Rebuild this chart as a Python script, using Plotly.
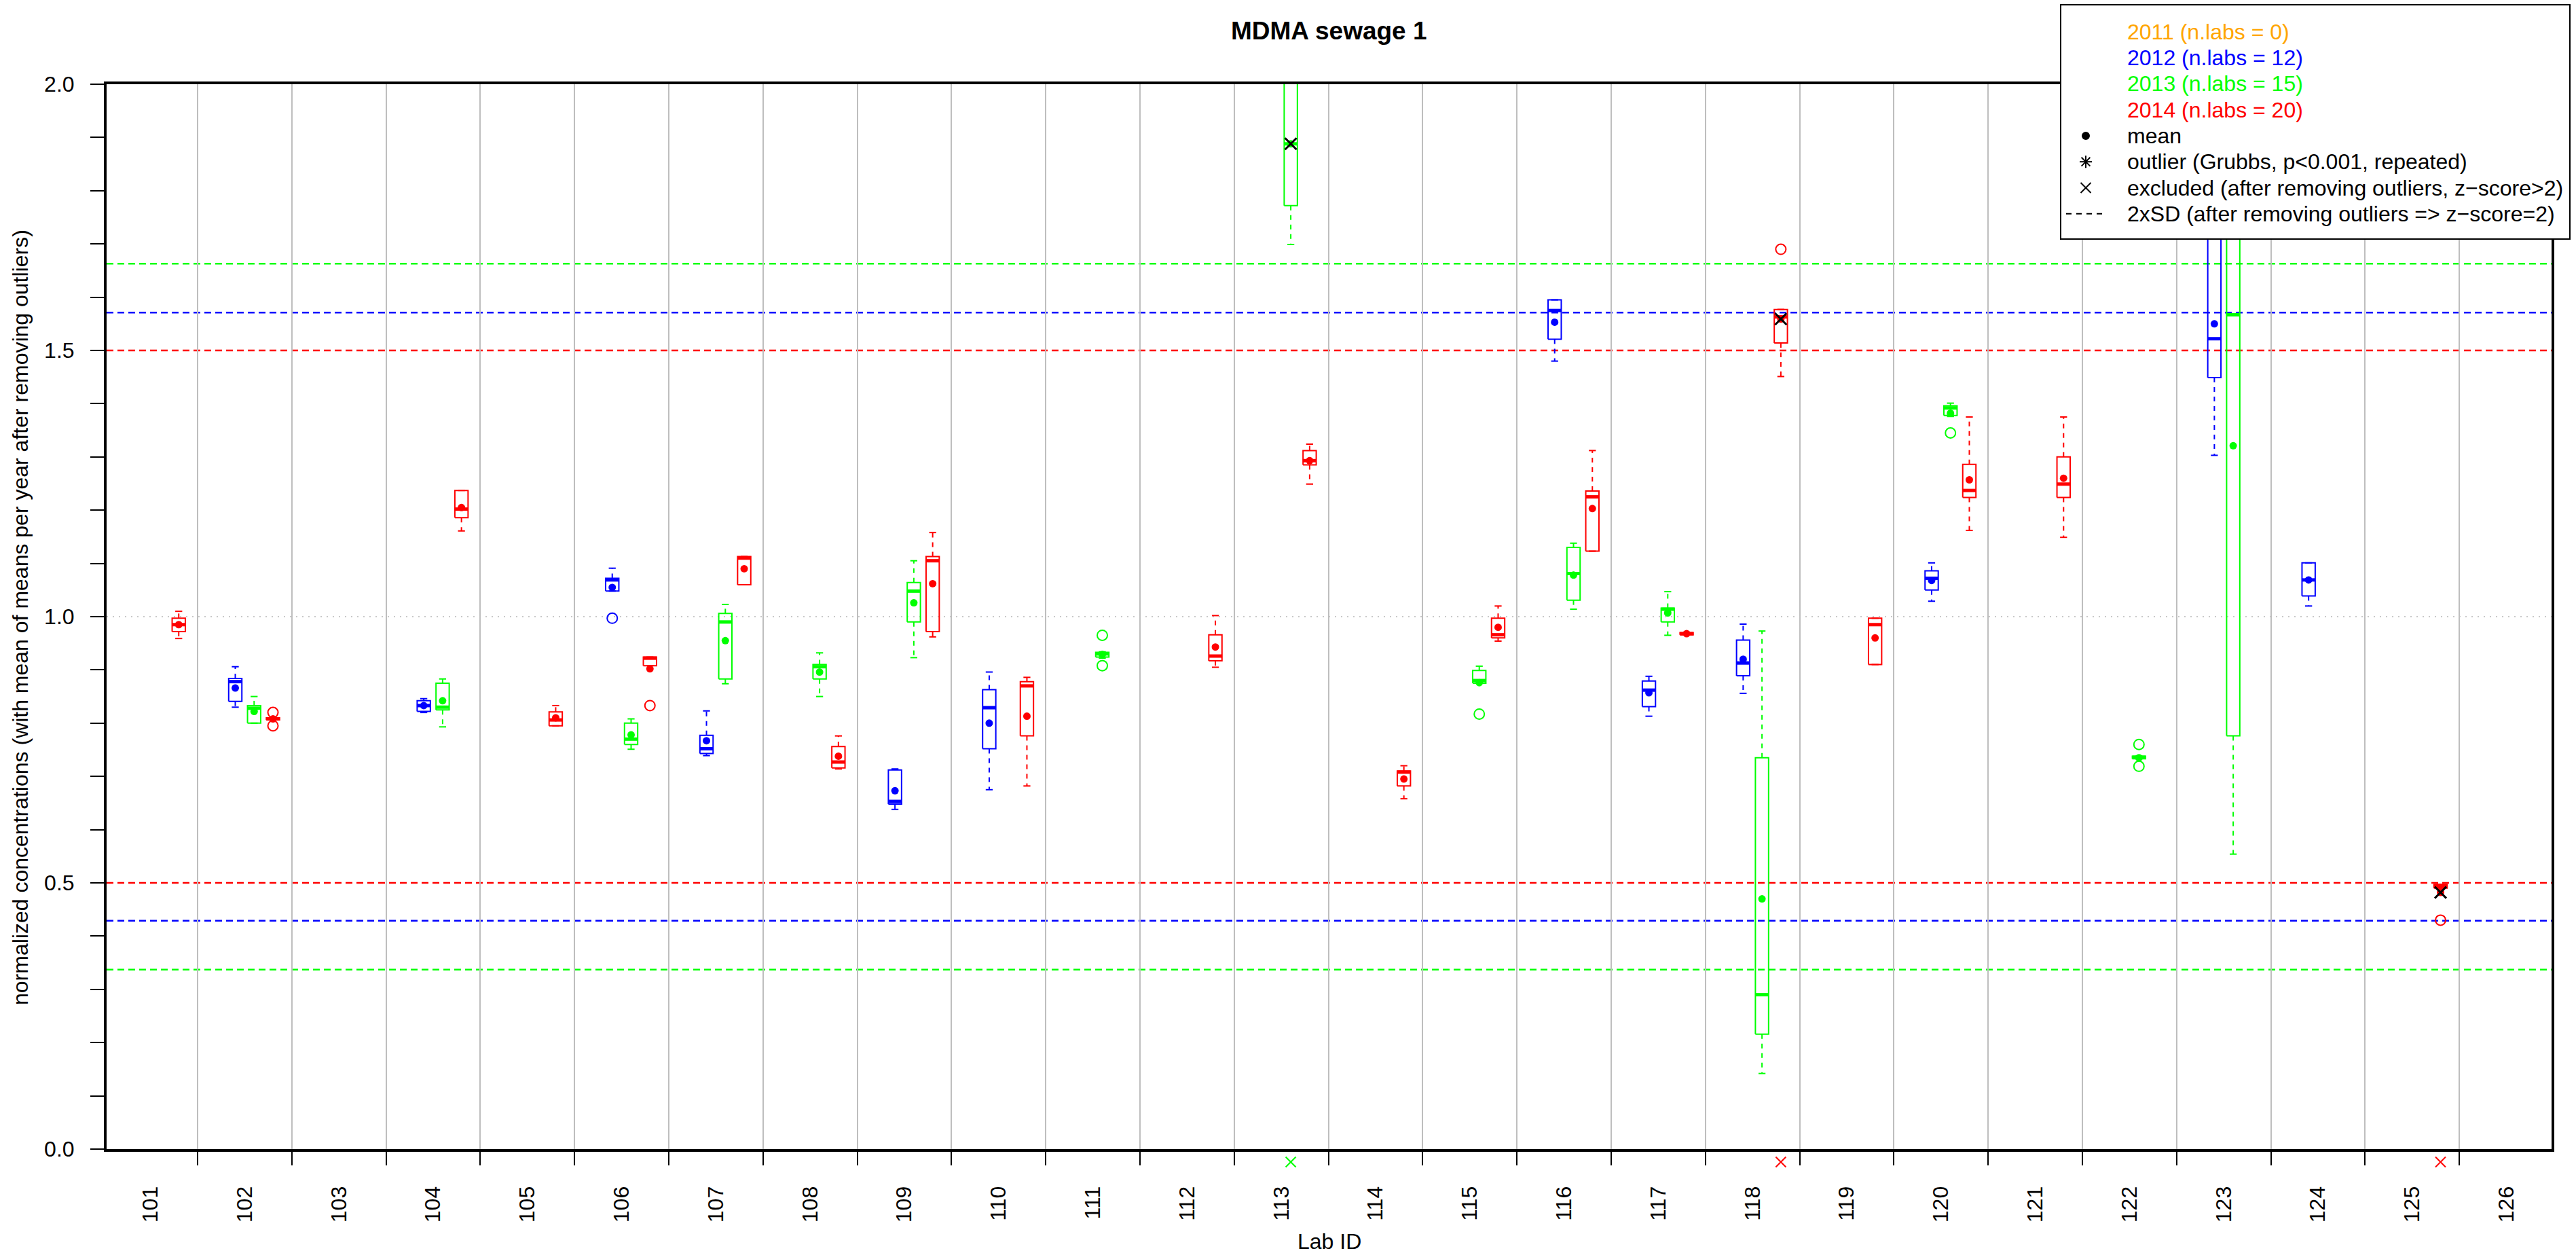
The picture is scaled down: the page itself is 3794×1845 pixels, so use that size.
import plotly.graph_objects as go

# ---------------------------------------------------------------- data
lab_ids = [101, 102, 103, 104, 105, 106, 107, 108, 109, 110, 111, 112, 113,
           114, 115, 116, 117, 118, 119, 120, 121, 122, 123, 124, 125, 126]

years = [2011, 2012, 2013, 2014]
year_colors = ["#FFA500", "#0000FF", "#00FF00", "#FF0000"]
# half-width of the 2xSD band around 1 (after removing outliers)
two_sd = [None, 0.571, 0.663, 0.500]

y_tick_vals = [0.0, 0.5, 1.0, 1.5, 2.0]
y_tick_text = ["0.0", "0.5", "1.0", "1.5", "2.0"]

# 2011: no participating labs
labs_2011 = []

# 2012
labs_2012 = [102, 104, 106, 107, 109, 110, 116, 117, 118, 120, 123, 124]
lo_2012 = [0.830, 0.820, 1.048, 0.739, 0.638, 0.675, 1.480, 0.813, 0.856, 1.029, 1.303, 1.020]
q1_2012 = [0.841, 0.822, 1.048, 0.743, 0.648, 0.752, 1.521, 0.831, 0.889, 1.050, 1.449, 1.039]
med_2012 = [0.878, 0.833, 1.069, 0.752, 0.653, 0.829, 1.575, 0.862, 0.913, 1.072, 1.522, 1.069]
q3_2012 = [0.884, 0.842, 1.072, 0.777, 0.712, 0.863, 1.595, 0.879, 0.956, 1.086, 1.880, 1.101]
hi_2012 = [0.906, 0.846, 1.091, 0.823, 0.714, 0.896, 1.595, 0.888, 0.986, 1.101, 2.150, 1.101]
mean_2012 = [0.866, 0.833, 1.055, 0.767, 0.673, 0.800, 1.553, 0.857, 0.920, 1.068, 1.550, 1.069]
out_labs_2012 = [106]
out_vals_2012 = [0.997]
excluded_2012 = []

# 2013
labs_2013 = [102, 104, 106, 107, 108, 109, 111, 113, 115, 116, 117, 118, 120, 122, 123]
lo_2013 = [0.800, 0.793, 0.751, 0.874, 0.850, 0.923, 0.922, 1.699, 0.875, 1.014, 0.965, 0.142, 1.376, 0.733, 0.554]
q1_2013 = [0.800, 0.825, 0.760, 0.883, 0.883, 0.990, 0.924, 1.772, 0.875, 1.031, 0.990, 0.216, 1.378, 0.733, 0.776]
med_2013 = [0.828, 0.830, 0.770, 0.990, 0.906, 1.048, 0.930, 1.888, 0.880, 1.081, 1.014, 0.290, 1.392, 0.736, 1.567]
q3_2013 = [0.833, 0.875, 0.800, 1.006, 0.910, 1.064, 0.933, 2.150, 0.899, 1.130, 1.016, 0.735, 1.396, 0.738, 2.100]
hi_2013 = [0.850, 0.883, 0.808, 1.023, 0.932, 1.105, 0.934, 2.250, 0.907, 1.138, 1.047, 0.973, 1.401, 0.738, 2.200]
mean_2013 = [0.822, 0.842, 0.778, 0.955, 0.896, 1.026, 0.929, 1.888, 0.876, 1.078, 1.007, 0.470, 1.382, 0.735, 1.321]
out_labs_2013 = [111, 111, 115, 120, 122, 122]
out_vals_2013 = [0.965, 0.908, 0.817, 1.345, 0.760, 0.719]
excluded_2013 = [113]

# 2014
labs_2014 = [101, 102, 104, 105, 106, 107, 108, 109, 110, 112, 113, 114, 115, 116, 117, 118, 119, 120, 121, 125]
lo_2014 = [0.959, 0.806, 1.161, 0.795, 0.908, 1.060, 0.714, 0.962, 0.682, 0.905, 1.249, 0.658, 0.954, 1.123,
           0.966, 1.451, 0.910, 1.162, 1.149, 0.490]
q1_2014 = [0.972, 0.806, 1.186, 0.795, 0.908, 1.060, 0.716, 0.972, 0.776, 0.917, 1.285, 0.682, 0.960, 1.123,
           0.966, 1.514, 0.910, 1.224, 1.224, 0.490]
med_2014 = [0.985, 0.808, 1.202, 0.806, 0.922, 1.110, 0.727, 1.105, 0.870, 0.926, 1.293, 0.708, 0.966, 1.225,
            0.968, 1.563, 0.985, 1.237, 1.249, 0.494]
q3_2014 = [0.997, 0.810, 1.237, 0.821, 0.924, 1.113, 0.756, 1.113, 0.878, 0.966, 1.312, 0.710, 0.997, 1.236,
           0.970, 1.577, 0.997, 1.286, 1.300, 0.497]
hi_2014 = [1.010, 0.810, 1.237, 0.833, 0.924, 1.113, 0.776, 1.158, 0.886, 1.002, 1.324, 0.720, 1.020, 1.312,
           0.970, 1.577, 0.997, 1.375, 1.375, 0.497]
mean_2014 = [0.985, 0.808, 1.205, 0.810, 0.902, 1.090, 0.738, 1.062, 0.813, 0.943, 1.293, 0.695, 0.980, 1.203,
             0.968, 1.559, 0.960, 1.257, 1.260, 0.482]
out_labs_2014 = [102, 102, 106, 118, 125]
out_vals_2014 = [0.820, 0.795, 0.833, 1.690, 0.430]
excluded_2014 = [118, 125]

series = {
    2011: dict(labs=labs_2011, lo=[], q1=[], med=[], q3=[], hi=[], mean=[],
               out_labs=[], out_vals=[], excluded=[]),
    2012: dict(labs=labs_2012, lo=lo_2012, q1=q1_2012, med=med_2012, q3=q3_2012, hi=hi_2012,
               mean=mean_2012, out_labs=out_labs_2012, out_vals=out_vals_2012, excluded=excluded_2012),
    2013: dict(labs=labs_2013, lo=lo_2013, q1=q1_2013, med=med_2013, q3=q3_2013, hi=hi_2013,
               mean=mean_2013, out_labs=out_labs_2013, out_vals=out_vals_2013, excluded=excluded_2013),
    2014: dict(labs=labs_2014, lo=lo_2014, q1=q1_2014, med=med_2014, q3=q3_2014, hi=hi_2014,
               mean=mean_2014, out_labs=out_labs_2014, out_vals=out_vals_2014, excluded=excluded_2014),
}

# ---------------------------------------------------------------- layout geometry
FIG_W, FIG_H = 3794, 1845
PLOT_L, PLOT_R, PLOT_T, PLOT_B = 157, 3758, 124, 1692
PW, PH = PLOT_R - PLOT_L, PLOT_B - PLOT_T
FONT = "Liberation Sans"
FS = 32

YEAR_OFFSETS = [-0.3, -0.1, 0.1, 0.3]   # dodge of each year inside a lab slot
BOX_HW = 0.07                            # half box width (x units)
CAP_HW = 0.037                           # half staple width
EXCL_MARK_PX = 1711                      # pixel row of the crosses under the x axis
X_RANGE = [0.5346, 26.478]
WHISKER_DASH = "7px,7px"


def xpos(lab, year_idx):
    return lab_ids.index(lab) + 1 + YEAR_OFFSETS[year_idx]


def px_x(px):
    return (px - PLOT_L) / PW


def px_y(py):
    return (PLOT_B - py) / PH


fig = go.Figure()

for yi, year in enumerate(years):
    s = series[year]
    col = year_colors[yi]
    bx, by, mx, my, wx, wy, cx, cy, ex, ey = [], [], [], [], [], [], [], [], [], []
    for k, lab in enumerate(s["labs"]):
        xc = xpos(lab, yi)
        lo, q1, md, q3, hi = s["lo"][k], s["q1"][k], s["med"][k], s["q3"][k], s["hi"][k]
        bx += [xc - BOX_HW, xc + BOX_HW, xc + BOX_HW, xc - BOX_HW, xc - BOX_HW, None]
        by += [q1, q1, q3, q3, q1, None]
        mx += [xc - BOX_HW, xc + BOX_HW, None]
        my += [md, md, None]
        wx += [xc, xc, None, xc, xc, None]
        wy += [q3, hi, None, q1, lo, None]
        cx += [xc - CAP_HW, xc + CAP_HW, None, xc - CAP_HW, xc + CAP_HW, None]
        cy += [hi, hi, None, lo, lo, None]
        ex.append(xc)
        ey.append(s["mean"][k])
    if not s["labs"]:
        continue
    # whiskers (dashed) and staples
    fig.add_trace(go.Scatter(x=wx, y=wy, mode="lines", hoverinfo="skip", showlegend=False,
                             line=dict(color=col, width=2, dash=WHISKER_DASH)))
    fig.add_trace(go.Scatter(x=cx, y=cy, mode="lines", hoverinfo="skip", showlegend=False,
                             line=dict(color=col, width=2)))
    # boxes
    fig.add_trace(go.Scatter(x=bx, y=by, mode="lines", hoverinfo="skip", showlegend=False,
                             line=dict(color=col, width=2)))
    # medians
    fig.add_trace(go.Scatter(x=mx, y=my, mode="lines", hoverinfo="skip", showlegend=False,
                             line=dict(color=col, width=5)))
    # outliers of the boxplot
    if s["out_labs"]:
        fig.add_trace(go.Scatter(x=[xpos(l, yi) for l in s["out_labs"]], y=s["out_vals"],
                                 mode="markers", hoverinfo="skip", showlegend=False,
                                 marker=dict(symbol="circle-open", size=15, color=col,
                                             line=dict(width=2, color=col))))
    # means
    fig.add_trace(go.Scatter(x=ex, y=ey, mode="markers", showlegend=False,
                             marker=dict(symbol="circle", size=11, color=col)))

shapes = []

# excluded lab/year combinations: black cross at the mean, coloured cross under the axis
for yi, year in enumerate(years):
    s = series[year]
    if not s["excluded"]:
        continue
    xs = [xpos(l, yi) for l in s["excluded"]]
    ms = [s["mean"][s["labs"].index(l)] for l in s["excluded"]]
    fig.add_trace(go.Scatter(x=xs, y=ms, mode="markers", showlegend=False, hoverinfo="skip",
                             marker=dict(symbol="x-thin-open", size=17, color="black",
                                         line=dict(width=3, color="black"))))
    for xv in xs:
        for sgn in (1, -1):
            shapes.append(dict(type="line", xref="x", yref="paper", xsizemode="pixel",
                               ysizemode="pixel", xanchor=xv, yanchor=px_y(EXCL_MARK_PX),
                               x0=-7.5, x1=7.5, y0=-7.5 * sgn, y1=7.5 * sgn, layer="above",
                               line=dict(color=year_colors[yi], width=2)))

# reference line at 1 and 2xSD limits per year
shapes.append(dict(type="line", xref="paper", yref="y", x0=0, x1=1, y0=1, y1=1, layer="below",
                   line=dict(color="#C8C8C8", width=2, dash="2px,7px")))
for yi, sd in enumerate(two_sd):
    if sd is None:
        continue
    for v in (1 + sd, 1 - sd):
        shapes.append(dict(type="line", xref="paper", yref="y", x0=0, x1=1, y0=v, y1=v,
                           layer="below", line=dict(color=year_colors[yi], width=2.5, dash="10px,6px")))

# legend box
LEG_L, LEG_R, LEG_T, LEG_B = 3035, 3785, 7, 352
shapes.append(dict(type="rect", xref="paper", yref="paper", x0=px_x(LEG_L), x1=px_x(LEG_R),
                   y0=px_y(LEG_B), y1=px_y(LEG_T), layer="above",
                   fillcolor="white", line=dict(color="black", width=2)))

ROW0, ROW_STEP = 46.7, 38.3
SYM_X, TXT_X = 3072, 3131
legend_rows = [(f"{y} (n.labs = {len(series[y]['labs'])})", year_colors[i]) for i, y in enumerate(years)]
legend_rows += [("mean", "black"),
                ("outlier (Grubbs, p<0.001, repeated)", "black"),
                ("excluded (after removing outliers, z\u2212score>2)", "black"),
                ("2xSD (after removing outliers => z\u2212score=2)", "black")]

annotations = []
for r, (txt, col) in enumerate(legend_rows):
    annotations.append(dict(xref="paper", yref="paper", x=px_x(TXT_X), y=px_y(ROW0 + r * ROW_STEP),
                            xanchor="left", yanchor="middle", text=txt, showarrow=False,
                            font=dict(family=FONT, size=FS, color=col)))


def pixel_line(cx_px, cy_px, dx0, dy0, dx1, dy1, width=2, dash=None):
    ln = dict(color="black", width=width)
    if dash:
        ln["dash"] = dash
    return dict(type="line", xref="paper", yref="paper", xsizemode="pixel", ysizemode="pixel",
                xanchor=px_x(cx_px), yanchor=px_y(cy_px), x0=dx0, x1=dx1, y0=dy0, y1=dy1,
                layer="above", line=ln)


# legend symbols
r_mean, r_out, r_exc, r_sd = 4, 5, 6, 7
yc = ROW0 + r_mean * ROW_STEP
shapes.append(dict(type="circle", xref="paper", yref="paper", xsizemode="pixel", ysizemode="pixel",
                   xanchor=px_x(SYM_X), yanchor=px_y(yc), x0=-6, x1=6, y0=-6, y1=6,
                   fillcolor="black", line=dict(color="black", width=0), layer="above"))
yc = ROW0 + r_out * ROW_STEP
a = 9
shapes += [pixel_line(SYM_X, yc, -a, 0, a, 0), pixel_line(SYM_X, yc, 0, -a, 0, a),
           pixel_line(SYM_X, yc, -a * 0.71, -a * 0.71, a * 0.71, a * 0.71),
           pixel_line(SYM_X, yc, -a * 0.71, a * 0.71, a * 0.71, -a * 0.71)]
yc = ROW0 + r_exc * ROW_STEP
b = 7.5
shapes += [pixel_line(SYM_X, yc, -b, -b, b, b), pixel_line(SYM_X, yc, -b, b, b, -b)]
yc = ROW0 + r_sd * ROW_STEP
shapes.append(pixel_line(SYM_X, yc, -29, 0, 26, 0, width=2, dash="8px,7px"))

# title and axis titles
annotations.append(dict(xref="paper", yref="paper", x=0.5, y=px_y(46), xanchor="center", yanchor="middle",
                        text="<b>MDMA sewage 1</b>", showarrow=False,
                        font=dict(family=FONT, size=37, color="black")))
annotations.append(dict(xref="paper", yref="paper", x=px_x(30), y=px_y(909), xanchor="center",
                        yanchor="middle", textangle=-90, showarrow=False,
                        text="normalized concentrations (with mean of means per year after removing outliers)",
                        font=dict(family=FONT, size=FS, color="black")))
annotations.append(dict(xref="paper", yref="paper", x=px_x(1958), y=px_y(1828), xanchor="center",
                        yanchor="middle", text="Lab ID", showarrow=False,
                        font=dict(family=FONT, size=FS, color="black")))

fig.update_layout(
    width=FIG_W, height=FIG_H, autosize=False,
    margin=dict(l=PLOT_L, r=FIG_W - PLOT_R, t=PLOT_T, b=FIG_H - PLOT_B, pad=0),
    paper_bgcolor="white", plot_bgcolor="white",
    showlegend=False,
    shapes=shapes, annotations=annotations,
    xaxis=dict(range=X_RANGE, tickmode="array", tickvals=list(range(1, len(lab_ids) + 1)),
               ticktext=[str(l) for l in lab_ids], tickangle=-90, ticks="", showgrid=False,
               zeroline=False, showline=True, mirror=True, linecolor="black", linewidth=4,
               ticklabelstandoff=38, tickfont=dict(family=FONT, size=FS, color="black"),
               minor=dict(tickmode="array", tickvals=[i + 1.5 for i in range(len(lab_ids) - 1)],
                          ticks="outside", ticklen=20, tickwidth=2, tickcolor="black",
                          showgrid=True, gridcolor="#BEBEBE", gridwidth=2)),
    yaxis=dict(range=[0, 2], tickmode="array", tickvals=y_tick_vals, ticktext=y_tick_text,
               ticks="outside", ticklen=20, tickwidth=2, tickcolor="black", showgrid=False,
               zeroline=False, showline=True, mirror=True, linecolor="black", linewidth=4,
               ticklabelstandoff=17, tickfont=dict(family=FONT, size=FS, color="black"),
               minor=dict(dtick=0.1, tick0=0, ticks="outside", ticklen=20, tickwidth=2,
                          tickcolor="black", showgrid=False)),
)

fig.write_html("out.html")
